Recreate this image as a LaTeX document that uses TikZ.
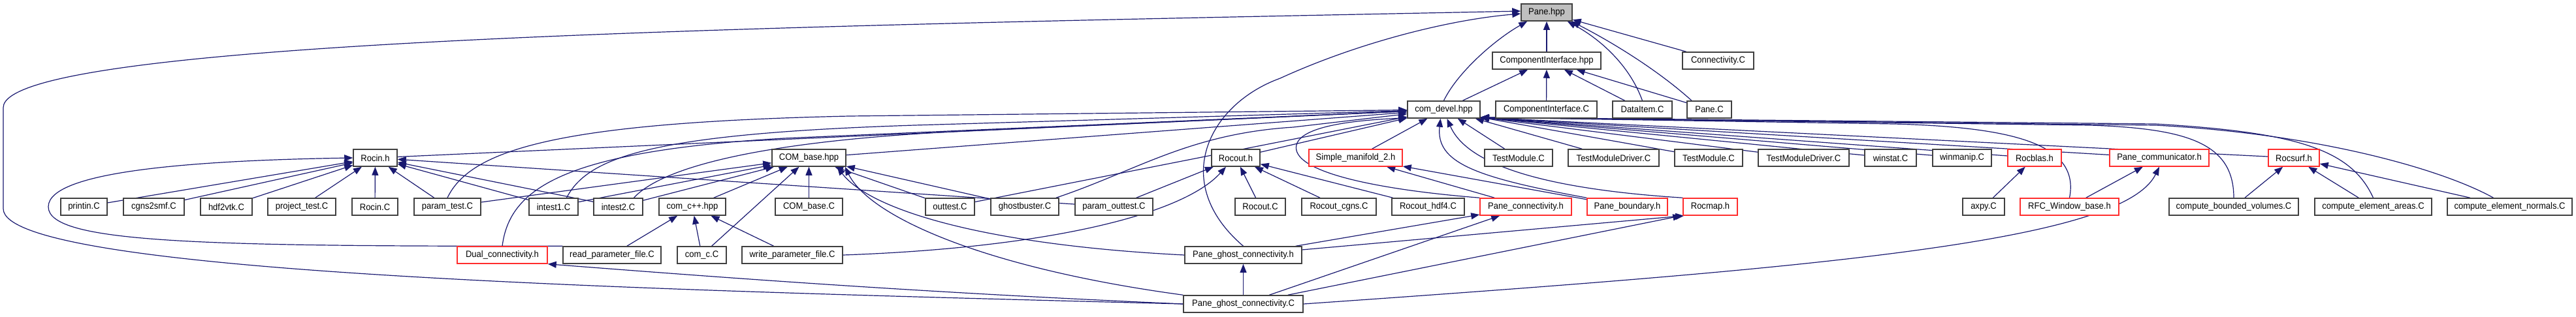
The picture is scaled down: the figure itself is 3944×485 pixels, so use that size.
\documentclass[tikz,border=0pt]{standalone}
\usepackage{fontspec}
\setmainfont{Liberation Sans}
\newfontfamily\boxfont[FakeStretch=0.93]{Liberation Sans}
\usetikzlibrary{arrows.meta}
\definecolor{edgeblue}{RGB}{25,25,112}
\definecolor{boxred}{RGB}{255,45,45}
\pgfdeclarelayer{background}
\pgfsetlayers{background,main}
\tikzset{
  filebox/.style={draw=black!75, line width=1.5pt, fill=white, minimum height=26pt,
    inner sep=0pt, font=\boxfont\fontsize{14}{16}\selectfont, text=black},
  redbox/.style={filebox, draw=boxred},
  dep/.style={draw=edgeblue, line width=1.2pt, -{Triangle[length=13pt,width=10pt]}}
}
\begin{document}
\begin{tikzpicture}[x=1pt,y=-1pt]
\useasboundingbox (0,0) rectangle (3944,485);
% row 1
\node[filebox, fill=black!25, minimum width=78pt] (paneh) at (2368,19) {Pane.hpp};
% row 2
\node[filebox, minimum width=166pt] (cihpp) at (2368,93) {ComponentInterface.hpp};
\node[filebox, minimum width=109pt] (connc) at (2630.5,93) {Connectivity.C};
% row 3
\node[filebox, minimum width=111pt] (comdevel) at (2210.5,168) {com\_devel.hpp};
\node[filebox, minimum width=155pt] (cic) at (2367.5,168) {ComponentInterface.C};
\node[filebox, minimum width=91pt] (dataitem) at (2514.5,168) {DataItem.C};
\node[filebox, minimum width=68pt] (panec) at (2617,168) {Pane.C};
% row 4
\node[filebox, minimum width=67pt] (rocinh) at (574.5,242) {Rocin.h};
\node[filebox, minimum width=113pt] (comb) at (1238.5,242) {COM\_base.hpp};
\node[filebox, minimum width=74pt] (rocouth) at (1892,242) {Rocout.h};
\node[redbox, minimum width=143pt] (sm2) at (2075.5,242) {Simple\_manifold\_2.h};
\node[filebox, minimum width=104pt] (tm1) at (2325,242) {TestModule.C};
\node[filebox, minimum width=139pt] (tmd1) at (2470.5,242) {TestModuleDriver.C};
\node[filebox, minimum width=104pt] (tm2) at (2616,242) {TestModule.C};
\node[filebox, minimum width=139pt] (tmd2) at (2761.5,242) {TestModuleDriver.C};
\node[filebox, minimum width=79pt] (winstat) at (2894.5,242) {winstat.C};
\node[filebox, minimum width=90pt] (winmanip) at (3004,242) {winmanip.C};
\node[redbox, minimum width=82pt] (rocblas) at (3115,242) {Rocblas.h};
\node[redbox, minimum width=152pt] (pcomm) at (3306,242) {Pane\_communicator.h};
\node[redbox, minimum width=78pt] (rocsurf) at (3512,242) {Rocsurf.h};
% row 5
\node[filebox, minimum width=71pt] (printin) at (128.5,317) {printin.C};
\node[filebox, minimum width=93pt] (cgns) at (235.5,317) {cgns2smf.C};
\node[filebox, minimum width=79pt] (hdf) at (346.5,317) {hdf2vtk.C};
\node[filebox, minimum width=104pt] (projt) at (462,317) {project\_test.C};
\node[filebox, minimum width=70pt] (rocinc) at (574,317) {Rocin.C};
\node[filebox, minimum width=102pt] (paramt) at (685,317) {param\_test.C};
\node[filebox, minimum width=75pt] (intest1) at (847.5,317) {intest1.C};
\node[filebox, minimum width=75pt] (intest2) at (946.5,317) {intest2.C};
\node[filebox, minimum width=102pt] (comcpp) at (1060,317) {com\_c++.hpp};
\node[filebox, minimum width=103pt] (combc) at (1238.5,317) {COM\_base.C};
\node[filebox, minimum width=75pt] (outtest) at (1454.5,317) {outtest.C};
\node[filebox, minimum width=104pt] (ghost) at (1569,317) {ghostbuster.C};
\node[filebox, minimum width=119pt] (paramo) at (1705.5,317) {param\_outtest.C};
\node[filebox, minimum width=77pt] (rocoutc) at (1929.5,317) {Rocout.C};
\node[filebox, minimum width=114pt] (rcgns) at (2050,317) {Rocout\_cgns.C};
\node[filebox, minimum width=111pt] (rhdf) at (2186.5,317) {Rocout\_hdf4.C};
\node[redbox, minimum width=140pt] (pconn) at (2336,317) {Pane\_connectivity.h};
\node[redbox, minimum width=123pt] (pbound) at (2491.5,317) {Pane\_boundary.h};
\node[redbox, minimum width=83pt] (rocmap) at (2618.5,317) {Rocmap.h};
\node[filebox, minimum width=64pt] (axpy) at (3037,317) {axpy.C};
\node[redbox, minimum width=151pt] (rfc) at (3168.5,317) {RFC\_Window\_base.h};
\node[filebox, minimum width=198pt] (cbv) at (3420,317) {compute\_bounded\_volumes.C};
\node[filebox, minimum width=179pt] (cea) at (3633.5,317) {compute\_element\_areas.C};
\node[filebox, minimum width=191pt] (cen) at (3842.5,317) {compute\_element\_normals.C};
% row 6
\node[redbox, minimum width=138pt] (dual) at (769,391) {Dual\_connectivity.h};
\node[filebox, minimum width=150pt] (readp) at (937,391) {read\_parameter\_file.C};
\node[filebox, minimum width=75pt] (comc) at (1074.5,391) {com\_c.C};
\node[filebox, minimum width=154pt] (writep) at (1213,391) {write\_parameter\_file.C};
\node[filebox, minimum width=179pt] (pgch) at (1903.5,391) {Pane\_ghost\_connectivity.h};
% row 7
\node[filebox, minimum width=183pt] (pgcc) at (1903.5,466) {Pane\_ghost\_connectivity.C};

\begin{pgfonlayer}{background}
% into Pane.hpp
\draw[dep] (pgcc.west) .. controls (1000,445) and (5,420) .. (5,320) -- (5,165) .. controls (5,60) and (1200,40) .. ([yshift=2pt]paneh.west);
\draw[dep] (pgch.north) .. controls (1790,280) and (1850,160) .. (1960,120) .. controls (2080,65) and (2220,30) .. ([yshift=-2pt]paneh.west);
\draw[dep] (comdevel.north) .. controls (2232,110) and (2290,60) .. ([xshift=10pt]paneh.south west);
\draw[dep] (cihpp) -- (paneh);
\draw[dep] (dataitem.north) .. controls (2495,100) and (2450,60) .. ([xshift=-8pt]paneh.south east);
\draw[dep] ([xshift=-27pt]panec.north) .. controls (2530,100) and (2450,55) .. ([xshift=-2pt]paneh.south east);
\draw[dep] (connc) -- (paneh);
% into ComponentInterface.hpp
\draw[dep] (comdevel) -- (cihpp);
\draw[dep] (cic) -- (cihpp);
\draw[dep] (dataitem) -- (cihpp);
\draw[dep] (panec) -- (cihpp);
% into com_devel.hpp from the left
\draw[dep] (rocinh) -- (comdevel);
\draw[dep] (comb) -- (comdevel);
\draw[dep] (paramt.north) .. controls (720,230) and (850,188) .. (1300,178) -- (comdevel);
\draw[dep] ([xshift=20pt]intest1.north) .. controls (900,240) and (1000,205) .. (1400,192) -- (comdevel);
\draw[dep] ([xshift=24pt]intest2.north) .. controls (1010,260) and (1150,215) .. (1500,200) -- (comdevel);
\draw[dep] (dual.north) .. controls (780,290) and (860,232) .. (1200,212) -- (comdevel);
\draw[dep] (outtest) -- (comdevel);
\draw[dep] ([xshift=-5pt]ghost.north east) .. controls (1740,262) and (1820,205) .. (1980,195) -- (comdevel);
\draw[dep] (rocouth) -- (comdevel);
\draw[dep] (sm2) -- (comdevel);
\draw[dep] (pconn.north west) .. controls (2100,290) and (1975,262) .. (1985,222) .. controls (1993,192) and (2080,184) .. ([yshift=1pt]comdevel.south west);
\draw[dep] (pbound.north west) .. controls (2260,272) and (2198,250) .. ([xshift=-5pt]comdevel.south);
\draw[dep] (rocmap.north west) .. controls (2400,292) and (2250,262) .. ([xshift=5pt]comdevel.south);
% into com_devel.hpp from the right
\draw[dep] (tm1) -- (comdevel);
\draw[dep] (tmd1) -- (comdevel);
\foreach \s in {tm2,tmd2,winstat,winmanip,rocblas,pcomm,rocsurf}
  \draw[dep] (\s) -- (comdevel.-12);
\draw[dep] (rfc.north) .. controls (3185,220) and (3080,195) .. (2900,190) -- (comdevel.-12);
\draw[dep] (cbv.north) .. controls (3420,220) and (3350,197) .. (3200,192) -- (comdevel.-12);
\draw[dep] (cea.north) .. controls (3600,230) and (3520,203) .. (3300,190) -- (comdevel.-12);
\draw[dep] ([xshift=-25pt]cen.north) .. controls (3740,260) and (3550,205) .. (3300,192) -- (comdevel.-12);
% Rocsurf.h, Rocblas.h, Pane_communicator.h
\draw[dep] (cbv) -- (rocsurf);
\draw[dep] (cea) -- (rocsurf);
\draw[dep] (cen) -- (rocsurf);
\draw[dep] (axpy) -- (rocblas);
\draw[dep] (rfc) -- (pcomm);
\draw[dep] (pgcc.east) .. controls (2800,410) and (3250,370) .. (pcomm.south);
% into Rocin.h
\foreach \s in {printin,cgns,hdf,projt,rocinc,paramt,intest1,intest2,paramo}
  \draw[dep] (\s) -- (rocinh);
\draw[dep] (readp.north west) .. controls (300,378) and (74,372) .. (74,317) .. controls (74,262) and (300,246) .. (rocinh.west);
% into COM_base.hpp
\foreach \s in {paramt,intest1,intest2,comcpp,comc,combc,outtest,ghost}
  \draw[dep] (\s) -- (comb);
\draw[dep] (pgch.west) .. controls (1500,375) and (1330,320) .. ([xshift=-14pt]comb.south east);
\draw[dep] (pgcc.north west) .. controls (1500,410) and (1330,330) .. ([xshift=-2pt]comb.south east);
% into com_c++.hpp
\draw[dep] (readp) -- (comcpp);
\draw[dep] (comc) -- (comcpp);
\draw[dep] (writep) -- (comcpp);
% into Rocout.h
\draw[dep] (paramo) -- (rocouth);
\draw[dep] (rocoutc) -- (rocouth);
\draw[dep] (rcgns) -- (rocouth);
\draw[dep] (rhdf) -- (rocouth);
\draw[dep] (writep.east) .. controls (1600,380) and (1810,330) .. ([xshift=-15pt]rocouth.south);
% into Simple_manifold_2.h
\draw[dep] (pconn) -- (sm2);
\draw[dep] (pbound) -- (sm2);
% into Dual_connectivity.h
\draw[dep] (pgcc.west) .. controls (1400,448) and (1100,425) .. (dual.south east);
% Pane_ghost_connectivity
\draw[dep] (pgcc) -- (pgch);
\draw[dep] (pgch) -- (pconn);
\draw[dep] (pgcc) -- (pconn);
\draw[dep] (pgch) -- ([xshift=2pt]rocmap.south west);
\draw[dep] (pgcc) -- ([xshift=-2pt]rocmap.south west);
\end{pgfonlayer}
\end{tikzpicture}
\end{document}
